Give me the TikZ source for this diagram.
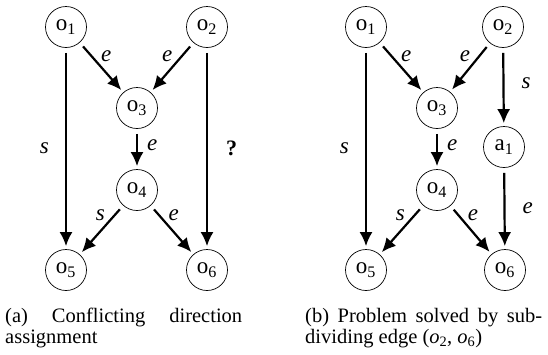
\documentclass[tikz,border=0pt]{standalone}
\usepackage{fontspec}
\setmainfont{Liberation Serif}
\usetikzlibrary{arrows.meta}
\begin{document}
\begin{tikzpicture}[x=1pt,y=-1pt,
  vtx/.style={circle,draw,line width=0.7pt,minimum size=41pt,inner sep=0pt,font=\fontsize{23}{26}\selectfont},
  arr/.style={line width=2.2pt,-{Latex[length=14pt,width=13pt]},shorten <=5pt,shorten >=3pt},
  lbl/.style={font=\fontsize{23}{26}\selectfont\itshape,inner sep=1pt},
  qlbl/.style={font=\fontsize{22}{26}\selectfont\bfseries,inner sep=1pt},
  captext/.style={font={\fontsize{20.5}{21}\selectfont},align=justify,anchor=north west,inner sep=0pt,text width=237pt}]
\useasboundingbox (0,0) rectangle (548,354);
% ---------- panel (a)
\node[vtx] (a1) at (66,27)  {o\textsubscript{1}};
\node[vtx] (a2) at (207,27) {o\textsubscript{2}};
\node[vtx] (a3) at (137,108) {o\textsubscript{3}};
\node[vtx] (a4) at (137,190) {o\textsubscript{4}};
\node[vtx] (a5) at (66,270) {o\textsubscript{5}};
\node[vtx] (a6) at (207,270) {o\textsubscript{6}};
\draw[arr] (a1) -- node[lbl,pos=0.42,anchor=south west,xshift=1pt] (la13) {e} (a3);
\draw[arr] (a2) -- node[lbl,pos=0.42,anchor=south east,xshift=-1pt] (la23) {e} (a3);
\draw[arr] (a3) -- node[lbl,pos=0.4,anchor=west,xshift=8pt] (la34) {e} (a4);
\draw[arr] (a4) -- node[lbl,pos=0.35,anchor=south east,xshift=-1pt] (la45) {s} (a5);
\draw[arr] (a4) -- node[lbl,pos=0.35,anchor=south west,xshift=1pt] (la46) {e} (a6);
\draw[arr] (a1) -- node[lbl,pos=0.5,anchor=east,xshift=-15pt] (la15) {s} (a5);
\draw[arr] (a2) -- node[qlbl,pos=0.5,anchor=west,xshift=17pt] (la26) {?} (a6);
\node[captext] (capa) at (5,308) {(a) Conflicting direction \mbox{assignment}};
% ---------- panel (b)
\node[vtx] (b1) at (366,27)  {o\textsubscript{1}};
\node[vtx] (b2) at (503,27) {o\textsubscript{2}};
\node[vtx] (b3) at (437,108) {o\textsubscript{3}};
\node[vtx] (b4) at (437,190) {o\textsubscript{4}};
\node[vtx] (b5) at (366,270) {o\textsubscript{5}};
\node[vtx] (b6) at (505,270) {o\textsubscript{6}};
\node[vtx] (ba) at (504,147) {a\textsubscript{1}};
\draw[arr] (b1) -- node[lbl,pos=0.42,anchor=south west,xshift=1pt] (lb13) {e} (b3);
\draw[arr] (b2) -- node[lbl,pos=0.42,anchor=south east,xshift=-1pt] (lb23) {e} (b3);
\draw[arr] (b3) -- node[lbl,pos=0.4,anchor=west,xshift=8pt] (lb34) {e} (b4);
\draw[arr] (b4) -- node[lbl,pos=0.35,anchor=south east,xshift=-1pt] (lb45) {s} (b5);
\draw[arr] (b4) -- node[lbl,pos=0.35,anchor=south west,xshift=1pt] (lb46) {e} (b6);
\draw[arr] (b1) -- node[lbl,pos=0.5,anchor=east,xshift=-15pt] (lb15) {s} (b5);
\draw[arr] (b2) -- node[lbl,pos=0.45,anchor=west,xshift=16pt] (lb2a) {s} (ba);
\draw[arr] (ba) -- node[lbl,pos=0.5,anchor=west,xshift=16pt] (lba6) {e} (b6);
\node[captext] (capb) at (305,308) {(b) Problem solved by sub-\mbox{dividing} edge (\textit{o}\textsubscript{2}, \textit{o}\textsubscript{6})};
\end{tikzpicture}
\end{document}
